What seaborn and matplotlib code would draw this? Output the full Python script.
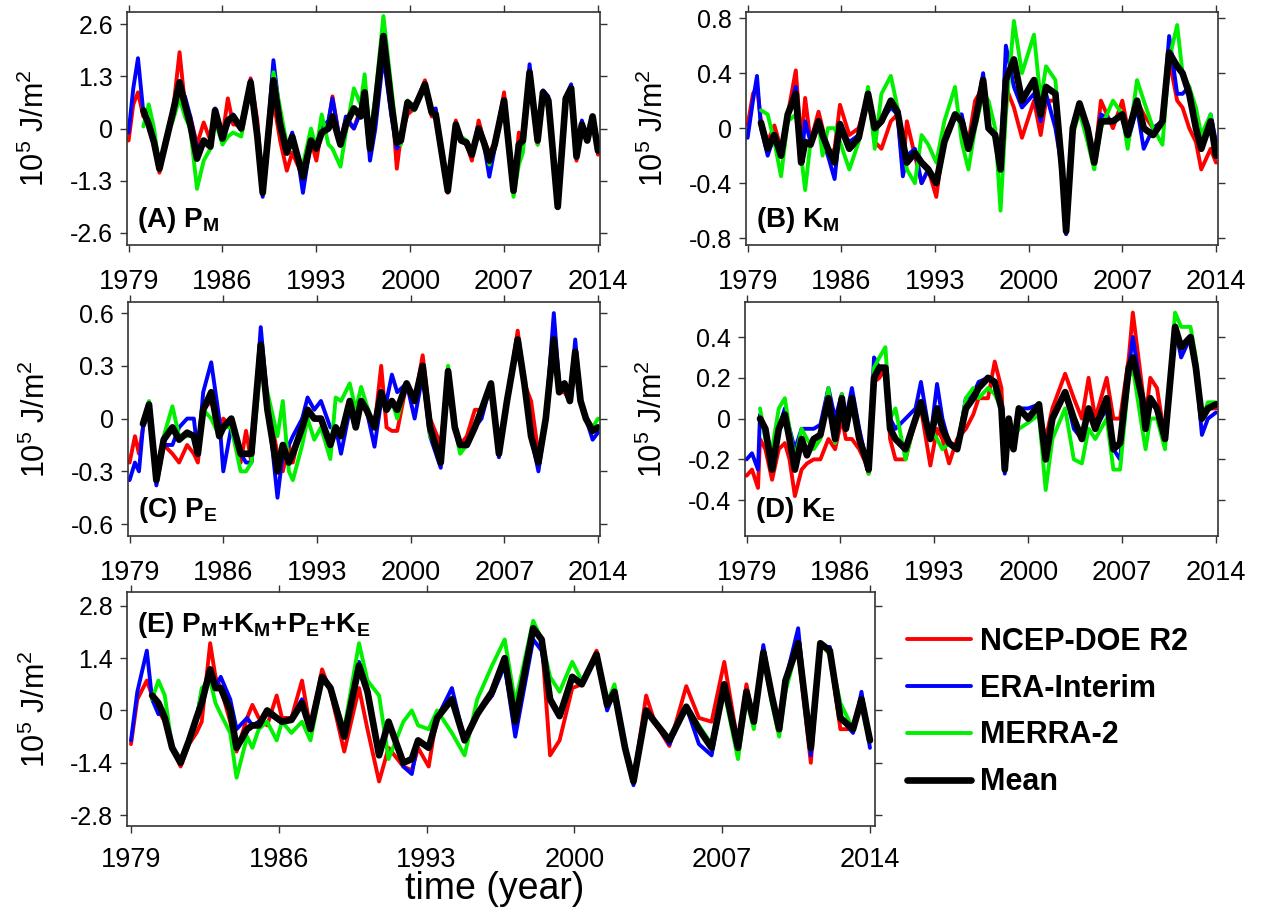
import numpy as np
import matplotlib
matplotlib.use('Agg')
import matplotlib.pyplot as plt
from matplotlib.lines import Line2D
import seaborn as sns

nan = np.nan

# x ticks shared by all panels
years = [1979, 1986, 1993, 2000, 2007, 2014]
series_names = ['NCEP-DOE R2', 'ERA-Interim', 'MERRA-2', 'Mean']
series_colors = ['#ff0000', '#0000ff', '#00f000', '#000000']

# (A) P_M
t_pm = [1979.0, 1979.35, 1979.7, 1980.1, 1980.5, 1980.9, 1981.3, 1981.8, 1982.3, 1982.8,
        1983.2, 1983.6, 1984.1, 1984.6, 1985.1, 1985.45, 1986.0, 1986.4, 1986.8, 1987.4,
        1988.1, 1988.6, 1989.0, 1989.8, 1990.3, 1990.8, 1991.2, 1991.6, 1992.0, 1992.6,
        1993.0, 1993.4, 1993.9, 1994.2, 1994.8, 1995.2, 1995.8, 1996.3, 1996.6, 1997.0,
        1997.4, 1998.0, 1998.6, 1999.0, 1999.3, 1999.8, 2000.3, 2001.1, 2001.6, 2001.9,
        2002.8, 2003.4, 2003.8, 2004.2, 2004.6, 2005.1, 2005.5, 2005.9, 2006.3, 2007.0,
        2007.7, 2008.1, 2008.4, 2008.9, 2009.5, 2009.9, 2010.3, 2011.0, 2011.6, 2012.0,
        2012.4, 2012.8, 2013.2, 2013.6, 2014.0]
pm_ncep = [-0.3, 0.6, 0.9, 0.3, 0.2, -0.3, -1.1, -0.3, 0.4, 1.9,
           0.6, 0.3, -0.4, 0.15, -0.3, 0.4, -0.2, 0.75, 0.1, 0.1,
           1.25, 0.2, -1.5, 0.7, -0.3, -1.05, -0.6, -0.9, -1.2, -0.3,
           -0.8, 0.0, 0.1, 0.8, -0.4, 0.2, 0.0, 0.5, 0.8, -0.5,
           0.3, 2.3, 0.8, -1.0, -0.2, 0.35, 0.5, 1.2, 0.3, 0.3,
           -1.6, 0.2, -0.3, -0.4, -0.8, 0.2, -0.3, -0.6, -0.4, 0.9,
           -1.5, -0.1, -0.3, 1.3, -0.4, 0.85, 0.5, -1.9, 0.8, 1.0,
           -0.8, 0.1, -0.3, 0.3, -0.65]
pm_era = [-0.1, 1.0, 1.75, 0.4, 0.2, -0.3, -0.9, -0.3, 0.5, 1.0,
          0.8, 0.3, -0.5, -0.3, -0.4, 0.5, -0.2, 0.1, 0.35, 0.0,
          1.2, 0.0, -1.7, 1.7, 0.3, -0.6, -0.1, -0.7, -1.6, -0.3,
          -0.5, 0.0, 0.2, 0.75, -0.4, 0.3, 0.0, 0.4, 0.8, -0.8,
          0.0, 1.8, 0.3, -0.5, -0.3, 0.65, 0.5, 1.1, 0.4, 0.5,
          -1.5, 0.1, -0.3, -0.4, -0.6, 0.0, -0.4, -1.2, -0.5, 0.7,
          -1.6, -0.4, -0.4, 1.6, -0.3, 0.95, 0.8, -1.8, 0.8, 1.1,
          -0.6, 0.2, -0.3, 0.3, -0.5]
pm_merra = [nan, nan, nan, 0.05, 0.6, 0.0, -1.0, -0.2, 0.2, 0.75,
            0.3, 0.0, -1.5, -0.8, -0.5, 0.2, -0.4, -0.2, -0.1, -0.2,
            1.1, -0.3, -1.5, 1.4, 0.5, -0.4, -0.3, -0.8, -0.9, 0.0,
            -0.5, 0.35, -0.4, -0.5, -0.95, -0.1, 1.0, 0.6, 1.35, -0.2,
            0.8, 2.8, 1.0, -0.2, -0.4, 0.7, 0.45, 1.1, 0.4, 0.3,
            -1.5, 0.0, -0.2, -0.3, -0.6, 0.0, -0.3, -0.9, -0.4, 0.7,
            -1.7, -0.9, -0.6, 1.2, -0.4, 0.75, 0.6, -1.9, 0.7, 0.9,
            -0.6, 0.0, -0.3, 0.25, -0.5]
pm_mean = [nan, nan, nan, 0.45, 0.1, -0.35, -1.0, -0.3, 0.4, 1.15,
           0.6, 0.1, -0.75, -0.3, -0.45, 0.45, -0.25, 0.2, 0.3, 0.0,
           1.15, -0.2, -1.6, 1.2, 0.1, -0.6, -0.2, -0.7, -1.2, -0.3,
           -0.5, -0.1, 0.0, 0.3, -0.4, 0.1, 0.5, 0.3, 0.9, -0.5,
           0.5, 2.3, 0.6, -0.35, -0.3, 0.65, 0.5, 1.1, 0.4, 0.35,
           -1.55, 0.1, -0.3, -0.35, -0.65, 0.0, -0.35, -0.8, -0.4, 0.7,
           -1.55, -0.4, -0.3, 1.4, -0.3, 0.9, 0.7, -1.95, 0.75, 1.0,
           -0.7, 0.1, -0.3, 0.3, -0.55]

# (B) K_M
t_km = [1979.0, 1979.4, 1979.7, 1980.0, 1980.5, 1981.0, 1981.5, 1982.0, 1982.6, 1983.0,
        1983.3, 1983.7, 1984.3, 1984.6, 1985.0, 1985.5, 1985.9, 1986.6, 1987.3, 1988.0,
        1988.5, 1989.0, 1989.7, 1990.2, 1990.6, 1990.9, 1991.5, 1992.0, 1992.5, 1993.1,
        1993.7, 1994.5, 1995.0, 1995.5, 1996.0, 1996.6, 1997.0, 1997.5, 1997.9, 1998.3,
        1998.9, 1999.5, 2000.4, 2000.9, 2001.3, 2002.0, 2002.5, 2002.8, 2003.3, 2003.8,
        2004.4, 2004.9, 2005.4, 2006.3, 2007.0, 2007.4, 2008.1, 2008.6, 2009.3, 2010.0,
        2010.5, 2011.1, 2011.5, 2012.0, 2012.5, 2012.9, 2013.6, 2014.0]
km_ncep = [0.02, 0.25, 0.3, 0.05, -0.1, 0.02, -0.15, 0.1, 0.42, -0.1,
           0.22, -0.1, 0.12, 0.0, -0.2, -0.15, 0.17, -0.05, 0.0, 0.25,
           -0.1, -0.15, 0.05, 0.1, -0.3, 0.05, -0.2, -0.4, -0.3, -0.5,
           -0.05, 0.1, 0.05, -0.1, 0.2, 0.3, 0.0, -0.05, -0.25, 0.3,
           0.15, -0.07, 0.2, -0.05, 0.2, 0.2, -0.3, -0.77, 0.0, 0.15,
           0.0, -0.25, 0.2, 0.0, 0.2, 0.0, 0.2, 0.1, 0.0, 0.05,
           0.5, 0.2, 0.15, 0.0, -0.1, -0.3, -0.15, -0.25]
km_era = [-0.07, 0.2, 0.38, 0.0, -0.2, -0.05, -0.15, 0.1, 0.3, -0.25,
          0.05, -0.1, 0.05, -0.05, -0.2, -0.37, 0.0, -0.1, -0.05, 0.25,
          0.0, 0.05, 0.15, 0.1, -0.35, -0.2, -0.15, -0.4, -0.3, -0.4,
          -0.1, 0.1, 0.1, -0.15, 0.05, 0.4, 0.0, -0.05, -0.25, 0.6,
          0.3, 0.15, 0.25, 0.05, 0.25, 0.0, -0.3, -0.77, 0.0, 0.18,
          0.0, -0.25, 0.1, 0.05, 0.1, -0.1, 0.15, -0.15, 0.0, 0.05,
          0.67, 0.25, 0.25, 0.3, 0.0, -0.15, 0.1, -0.1]
km_merra = [nan, nan, nan, 0.13, 0.1, -0.1, -0.35, 0.05, 0.1, -0.2,
            -0.45, -0.1, 0.05, -0.2, 0.0, 0.0, -0.1, -0.3, -0.1, 0.3,
            -0.15, 0.25, 0.38, 0.15, -0.1, -0.3, -0.4, -0.05, -0.12, -0.25,
            0.05, 0.3, -0.1, -0.3, 0.0, 0.25, 0.2, 0.0, -0.6, 0.1,
            0.78, 0.4, 0.68, 0.2, 0.45, 0.35, -0.3, -0.75, -0.05, 0.12,
            -0.1, -0.3, 0.0, 0.2, 0.1, -0.15, 0.35, 0.2, 0.0, -0.12,
            0.5, 0.75, 0.4, 0.3, 0.15, -0.05, 0.1, -0.2]
km_mean = [nan, nan, nan, 0.04, -0.15, -0.05, -0.2, 0.1, 0.25, -0.25,
           -0.1, -0.12, 0.05, -0.05, -0.15, -0.25, 0.03, -0.15, -0.07, 0.25,
           0.0, 0.05, 0.2, 0.12, -0.1, -0.25, -0.18, -0.25, -0.3, -0.4,
           -0.1, 0.1, 0.05, -0.15, 0.05, 0.35, 0.0, -0.05, -0.3, 0.35,
           0.5, 0.2, 0.35, 0.1, 0.3, 0.25, -0.3, -0.75, 0.0, 0.18,
           0.0, -0.25, 0.05, 0.05, 0.1, -0.05, 0.2, 0.0, -0.05, 0.05,
           0.55, 0.45, 0.4, 0.25, 0.0, -0.15, 0.05, -0.2]

# (C) P_E
t_pe = [1979.0, 1979.4, 1979.7, 1980.0, 1980.45, 1981.0, 1981.55, 1982.2, 1982.7, 1983.3,
        1983.8, 1984.1, 1984.5, 1985.1, 1985.7, 1986.0, 1986.6, 1987.3, 1987.7, 1988.1,
        1988.8, 1989.3, 1990.05, 1990.45, 1990.9, 1991.2, 1991.9, 1992.3, 1992.8, 1993.3,
        1994.0, 1994.4, 1994.8, 1995.45, 1995.9, 1996.3, 1996.7, 1997.3, 1997.8, 1998.2,
        1998.6, 1999.0, 1999.7, 2000.3, 2000.9, 2001.45, 2002.25, 2002.8, 2003.3, 2003.7,
        2004.2, 2004.8, 2005.3, 2006.0, 2006.6, 2007.2, 2008.0, 2008.5, 2009.0, 2009.55,
        2010.1, 2010.7, 2011.1, 2011.5, 2011.9, 2012.3, 2012.7, 2013.1, 2013.6, 2014.0]
pe_ncep = [-0.25, -0.1, -0.2, -0.05, 0.05, -0.3, -0.15, -0.2, -0.25, -0.15,
           -0.2, -0.25, 0.05, 0.1, -0.05, 0.0, -0.05, -0.25, -0.07, -0.25,
           0.35, 0.1, -0.2, -0.3, -0.15, -0.25, 0.0, 0.05, 0.0, 0.0,
           -0.15, -0.05, -0.1, 0.05, -0.05, 0.1, 0.05, -0.05, 0.3, -0.05,
           -0.07, -0.07, 0.2, 0.1, 0.36, 0.0, -0.15, 0.25, -0.05, -0.15,
           -0.1, 0.05, 0.05, 0.2, -0.15, 0.1, 0.5, 0.2, 0.1, -0.2,
           0.0, 0.4, 0.15, 0.15, 0.1, 0.38, 0.1, 0.0, -0.05, -0.05]
pe_era = [-0.35, -0.25, -0.3, -0.05, 0.05, -0.38, -0.15, -0.15, -0.05, 0.0,
          0.0, -0.2, 0.15, 0.32, 0.0, -0.3, -0.05, -0.2, -0.25, -0.25,
          0.52, 0.1, -0.45, -0.2, -0.15, -0.1, 0.0, 0.12, 0.05, 0.1,
          -0.05, -0.05, -0.2, 0.05, 0.0, 0.1, 0.05, -0.16, 0.1, 0.1,
          0.25, 0.15, 0.2, 0.0, 0.25, -0.1, -0.28, 0.25, -0.05, -0.15,
          -0.15, -0.05, 0.0, 0.2, -0.22, 0.1, 0.45, 0.2, -0.1, -0.3,
          0.0, 0.6, 0.2, 0.2, 0.1, 0.45, 0.1, 0.0, -0.12, -0.08]
pe_merra = [nan, nan, nan, -0.03, 0.1, -0.3, -0.1, 0.07, -0.1, -0.1,
            -0.1, -0.2, 0.05, 0.0, -0.1, -0.05, -0.05, -0.3, -0.3, -0.25,
            0.3, 0.15, -0.1, 0.1, -0.3, -0.35, -0.15, 0.0, -0.12, -0.05,
            -0.23, 0.12, 0.1, 0.2, 0.05, 0.18, 0.08, -0.05, 0.15, 0.05,
            0.1, 0.0, 0.2, 0.1, 0.3, -0.1, -0.2, 0.3, -0.05, -0.2,
            -0.15, -0.05, 0.05, 0.2, -0.2, 0.1, 0.42, 0.2, -0.1, -0.22,
            0.0, 0.4, 0.15, 0.2, 0.1, 0.38, 0.1, 0.0, -0.05, 0.0]
pe_mean = [nan, nan, nan, -0.03, 0.08, -0.35, -0.12, -0.05, -0.12, -0.08,
           -0.1, -0.2, 0.05, 0.15, -0.1, -0.05, 0.0, -0.2, -0.2, -0.2,
           0.42, 0.05, -0.3, -0.15, -0.25, -0.2, -0.05, 0.05, 0.0, 0.0,
           -0.15, -0.05, -0.1, 0.1, -0.05, 0.1, 0.05, -0.05, 0.15, 0.05,
           0.1, 0.05, 0.2, 0.1, 0.3, -0.05, -0.25, 0.27, -0.05, -0.15,
           -0.15, -0.05, 0.05, 0.2, -0.2, 0.1, 0.45, 0.2, -0.1, -0.25,
           0.0, 0.45, 0.15, 0.2, 0.1, 0.38, 0.1, 0.0, -0.07, -0.05]

# (D) K_E
t_ke = [1979.0, 1979.4, 1979.85, 1980.0, 1980.4, 1980.9, 1981.4, 1981.85, 1982.2, 1982.6,
        1983.1, 1983.5, 1984.0, 1984.5, 1985.1, 1985.6, 1986.1, 1986.4, 1986.85, 1987.4,
        1987.9, 1988.1, 1988.5, 1988.9, 1989.35, 1989.7, 1990.1, 1990.85, 1991.6, 1992.0,
        1992.7, 1993.2, 1993.6, 1994.1, 1994.7, 1995.35, 1995.9, 1996.3, 1997.0, 1997.5,
        1998.0, 1998.25, 1998.55, 1998.9, 1999.3, 2000.0, 2000.8, 2001.3, 2001.8, 2002.75,
        2003.4, 2004.0, 2004.5, 2005.0, 2005.85, 2006.35, 2006.85, 2007.5, 2007.8, 2008.5,
        2008.75, 2009.1, 2009.6, 2010.2, 2010.95, 2011.4, 2012.1, 2012.5, 2012.95, 2013.4,
        2014.0]
ke_ncep = [-0.28, -0.25, -0.34, -0.1, -0.15, -0.3, -0.15, -0.12, -0.2, -0.38,
           -0.25, -0.22, -0.2, -0.2, -0.1, -0.15, 0.0, -0.1, -0.1, -0.15,
           -0.22, -0.27, 0.18, 0.2, 0.25, -0.1, -0.2, -0.2, 0.0, 0.05,
           -0.23, -0.05, -0.1, -0.22, -0.1, -0.05, 0.02, 0.1, 0.1, 0.28,
           0.15, -0.2, 0.0, -0.1, 0.05, 0.0, 0.05, -0.1, 0.05, 0.22,
           0.1, 0.0, 0.2, 0.0, 0.2, 0.0, 0.0, 0.3, 0.52, 0.15,
           0.0, 0.2, 0.15, -0.1, 0.4, 0.35, 0.4, 0.25, 0.0, 0.05,
           0.05]
ke_era = [-0.2, -0.17, -0.25, 0.02, -0.05, -0.2, -0.05, 0.05, -0.05, -0.15,
          -0.05, -0.05, -0.05, -0.03, 0.15, 0.0, 0.12, 0.0, 0.15, -0.05,
          -0.2, -0.25, 0.3, 0.25, 0.25, 0.0, -0.05, 0.0, 0.05, 0.18,
          -0.1, 0.17, 0.0, -0.12, -0.15, 0.1, 0.12, 0.18, 0.2, 0.18,
          0.05, -0.27, 0.0, -0.15, 0.05, 0.05, 0.07, -0.2, 0.0, 0.13,
          -0.05, -0.1, 0.05, -0.05, 0.05, -0.15, -0.2, 0.25, 0.4, 0.1,
          -0.05, 0.1, 0.05, -0.1, 0.45, 0.3, 0.4, 0.25, -0.08, 0.0,
          0.03]
ke_merra = [nan, nan, nan, 0.05, -0.1, -0.15, 0.05, 0.1, -0.05, -0.2,
            -0.05, -0.1, -0.15, -0.1, 0.15, -0.12, 0.12, 0.0, 0.1, -0.1,
            -0.2, -0.27, 0.25, 0.3, 0.35, 0.0, 0.05, -0.2, 0.0, 0.05,
            -0.05, -0.1, -0.15, -0.12, -0.15, 0.1, 0.15, 0.1, 0.15, 0.12,
            0.05, -0.2, 0.0, -0.1, -0.05, -0.02, 0.02, -0.35, -0.1, 0.05,
            -0.2, -0.22, -0.05, -0.1, 0.0, -0.25, -0.25, 0.2, 0.25, -0.05,
            -0.15, 0.0, 0.0, -0.15, 0.52, 0.45, 0.45, 0.3, 0.0, 0.08,
            0.08]
ke_mean = [nan, nan, nan, 0.0, -0.05, -0.25, -0.05, 0.02, -0.1, -0.25,
           -0.1, -0.18, -0.1, -0.08, 0.1, -0.1, 0.1, -0.05, 0.1, -0.1,
           -0.2, -0.25, 0.2, 0.25, 0.25, -0.05, -0.1, -0.15, 0.0, 0.08,
           -0.1, 0.05, -0.05, -0.12, -0.15, 0.05, 0.1, 0.15, 0.2, 0.18,
           0.05, -0.25, 0.0, -0.15, 0.05, 0.0, 0.07, -0.2, 0.0, 0.13,
           0.0, -0.1, 0.05, -0.05, 0.1, -0.15, -0.12, 0.25, 0.3, 0.1,
           -0.05, 0.1, 0.05, -0.1, 0.45, 0.35, 0.4, 0.25, 0.0, 0.05,
           0.07]

# (E) P_M+K_M+P_E+K_E
t_tot = [1979.0, 1979.3, 1979.75, 1980.0, 1980.3, 1980.6, 1980.95, 1981.35, 1981.75, 1982.1,
         1982.35, 1982.75, 1983.0, 1983.25, 1983.7, 1984.0, 1984.5, 1984.75, 1985.05, 1985.45,
         1985.9, 1986.15, 1986.6, 1987.1, 1987.5, 1988.05, 1988.45, 1989.1, 1989.8, 1990.2,
         1990.75, 1991.2, 1991.9, 1992.3, 1992.6, 1993.1, 1993.5, 1994.2, 1994.8, 1995.4,
         1996.1, 1996.7, 1997.2, 1998.05, 1998.45, 1998.85, 1999.3, 1999.9, 2000.35, 2001.05,
         2001.55, 2001.9, 2002.4, 2002.8, 2003.4, 2003.8, 2004.5, 2005.3, 2005.9, 2006.5,
         2007.1, 2007.75, 2008.15, 2008.5, 2008.95, 2009.35, 2009.7, 2010.0, 2010.6, 2011.2,
         2011.65, 2012.1, 2012.6, 2013.2, 2013.6, 2014.0]
tot_ncep = [-0.9, 0.3, 0.8, 0.4, 0.0, -0.3, -1.0, -1.5, -0.9, -0.6,
            -0.3, 1.8, 0.9, 0.6, -0.3, -1.1, -0.2, 0.15, -0.2, -0.4,
            0.4, -0.2, -0.2, 0.8, -0.5, 1.1, 0.5, -1.1, 0.6, -0.5,
            -1.9, -1.0, -1.5, -1.6, -1.0, -1.5, -0.1, 0.3, -0.8, -0.1,
            0.4, 1.4, -0.4, 2.3, 1.9, -1.2, -0.8, 0.6, 0.7, 1.6,
            0.15, 0.5, -1.0, -1.9, 0.4, -0.3, -0.95, 0.65, -0.2, -0.3,
            1.3, -0.9, 0.7, -0.3, 1.5, 0.4, -0.5, 0.8, 1.6, -1.4,
            1.8, 1.5, -0.5, -0.5, 0.3, -0.8]
tot_era = [-0.8, 0.5, 1.6, 0.3, -0.1, 0.0, -1.0, -1.4, -0.8, -0.2,
           0.5, 1.0, 0.6, 0.9, 0.3, -0.5, -0.2, -0.4, -0.3, -0.1,
           -0.2, -0.3, -0.2, 0.3, -0.5, 0.9, 0.6, -0.7, 1.3, 0.5,
           -1.2, -0.3, -1.5, -1.7, -0.8, -1.0, -0.2, 0.6, -0.8, -0.1,
           0.4, 1.2, -0.7, 1.9, 1.6, 0.3, -0.15, 0.9, 0.7, 1.5,
           0.0, 0.5, -1.0, -2.0, 0.0, -0.3, -0.9, 0.1, -0.9, -1.2,
           0.7, -1.1, 0.5, -0.3, 1.75, 0.4, -0.5, 0.8, 2.2, -1.2,
           1.7, 1.7, -0.2, -0.6, 0.5, -1.0]
tot_merra = [nan, nan, nan, 0.3, 0.8, 0.4, -1.0, -1.3, -0.9, -0.3,
             0.6, 0.8, 0.2, -0.1, -0.6, -1.8, -0.7, -1.0, -0.5, -0.3,
             -0.8, -0.3, -0.6, -0.3, -0.8, 0.8, 0.6, -0.5, 1.8, 0.8,
             0.4, -1.3, -0.3, 0.0, -0.4, -0.5, 0.0, -0.6, -1.2, 0.3,
             1.2, 1.9, 0.2, 2.4, 1.9, 0.9, 0.5, 1.3, 0.8, 1.5,
             0.2, 0.7, -1.0, -1.9, 0.0, -0.3, -0.8, 0.1, -0.4, -0.9,
             0.5, -1.3, 0.3, -0.5, 1.5, 0.2, -0.7, 0.5, 1.8, -1.0,
             1.8, 1.5, 0.2, -0.5, 0.3, -0.7]
tot_mean = [nan, nan, nan, 0.4, 0.2, -0.2, -1.0, -1.4, -0.8, -0.2,
            0.2, 1.1, 0.6, 0.6, 0.0, -1.0, -0.5, -0.4, -0.4, 0.0,
            -0.2, -0.3, -0.25, 0.2, -0.5, 0.9, 0.6, -0.7, 1.2, 0.5,
            -1.2, -0.3, -1.4, -1.3, -0.8, -1.0, -0.2, 0.3, -0.8, -0.1,
            0.5, 1.4, -0.3, 2.2, 1.9, 0.3, -0.15, 0.9, 0.7, 1.5,
            0.15, 0.5, -1.0, -1.9, 0.0, -0.3, -0.8, 0.1, -0.5, -1.0,
            0.7, -1.0, 0.5, -0.3, 1.55, 0.4, -0.5, 0.8, 1.8, -1.0,
            1.8, 1.6, -0.2, -0.5, 0.3, -0.8]

# y ticks of each panel
pm_ticks = [-2.6, -1.3, 0, 1.3, 2.6]
pm_ticklabels = ['-2.6', '-1.3', '0', '1.3', '2.6']
km_ticks = [-0.8, -0.4, 0, 0.4, 0.8]
km_ticklabels = ['-0.8', '-0.4', '0', '0.4', '0.8']
pe_ticks = [-0.6, -0.3, 0, 0.3, 0.6]
pe_ticklabels = ['-0.6', '-0.3', '0', '0.3', '0.6']
ke_ticks = [-0.4, -0.2, 0, 0.2, 0.4]
ke_ticklabels = ['-0.4', '-0.2', '0', '0.2', '0.4']
tot_ticks = [-2.8, -1.4, 0, 1.4, 2.8]
tot_ticklabels = ['-2.8', '-1.4', '0', '1.4', '2.8']

sns.set_theme(style='ticks')
plt.rcParams['font.family'] = ['Liberation Sans', 'DejaVu Sans']
plt.rcParams['mathtext.fontset'] = 'custom'
plt.rcParams['mathtext.rm'] = 'Liberation Sans'
plt.rcParams['mathtext.it'] = 'Liberation Sans:italic'
plt.rcParams['mathtext.bf'] = 'Liberation Sans:bold'
plt.rcParams['axes.unicode_minus'] = False
for key in ['text.color', 'axes.labelcolor', 'xtick.color', 'ytick.color']:
    plt.rcParams[key] = 'black'

fig = plt.figure(figsize=(12.61, 9.16), dpi=100)
line_widths = [2.8, 2.8, 2.8, 4.8]


def draw_panel(rect, t, ncep, era, merra, mean, yticks, yticklabels, ylim, xlim,
               label, label_xy, ylabel_x, xpad):
    ax = fig.add_axes(rect)
    for vals, color, lw in zip([ncep, era, merra, mean], series_colors, line_widths):
        t_arr = np.array(t)
        v_arr = np.array(vals, dtype=float)
        ok = ~np.isnan(v_arr)
        sns.lineplot(x=t_arr[ok], y=v_arr[ok], color=color, linewidth=lw, ax=ax,
                     estimator=None, sort=False, legend=False,
                     solid_joinstyle='round', solid_capstyle='round')
    ax.set_xlim(*xlim)
    ax.set_ylim(*ylim)
    ax.set_xticks(years)
    ax.set_xticklabels([str(y) for y in years])
    ax.set_yticks(yticks)
    ax.set_yticklabels(yticklabels)
    ax.tick_params(direction='out', length=5, width=1, top=True, right=True, color='#333333')
    ax.tick_params(axis='x', labelsize=19.5, pad=xpad)
    ax.tick_params(axis='y', labelsize=18, pad=5)
    for sp in ax.spines.values():
        sp.set_visible(True)
        sp.set_color('#333333')
        sp.set_linewidth(1.2)
    ax.set_ylabel(r'10$^5$ J/m$^2$', fontsize=22)
    ax.yaxis.set_label_coords(ylabel_x, 0.5)
    ax.text(label_xy[0], label_xy[1], label, transform=ax.transAxes, fontsize=20,
            fontweight='bold', va='baseline', ha='left')
    return ax


top_xlim = (1978.88, 2014.15)
draw_panel([0.1007, 0.7325, 0.3751, 0.2544], t_pm, pm_ncep, pm_era, pm_merra, pm_mean,
           pm_ticks, pm_ticklabels, (-2.9, 2.9), top_xlim,
           r'(A) $\mathbf{P_M}$', (0.021, 0.077), -0.16, 12)
draw_panel([0.5916, 0.7325, 0.3743, 0.2544], t_km, km_ncep, km_era, km_merra, km_mean,
           km_ticks, km_ticklabels, (-0.85, 0.845), top_xlim,
           r'(B) $\mathbf{K_M}$', (0.021, 0.077), -0.16, 12)
draw_panel([0.1015, 0.4148, 0.3743, 0.2555], t_pe, pe_ncep, pe_era, pe_merra, pe_mean,
           pe_ticks, pe_ticklabels, (-0.668, 0.663), top_xlim,
           r'(C) $\mathbf{P_E}$', (0.021, 0.081), -0.16, 12)
draw_panel([0.5908, 0.4148, 0.3751, 0.2555], t_ke, ke_ncep, ke_era, ke_merra, ke_mean,
           ke_ticks, ke_ticklabels, (-0.576, 0.572), top_xlim,
           r'(D) $\mathbf{K_E}$', (0.021, 0.081), -0.16, 12)
draw_panel([0.1007, 0.0983, 0.5932, 0.2554], t_tot, tot_ncep, tot_era, tot_merra, tot_mean,
           tot_ticks, tot_ticklabels, (-3.09, 3.17), (1978.81, 2014.24),
           r'(E) $\mathbf{P_M}$+$\mathbf{K_M}$+$\mathbf{P_E}$+$\mathbf{K_E}$',
           (0.013, 0.83), -0.10, 10)

fig.text(495 / 1261, 1 - 889 / 916, 'time (year)', fontsize=27, ha='center', va='center')

handles = [Line2D([0], [0], color=c, lw=lw) for c, lw in zip(series_colors, line_widths)]
fig.legend(handles, series_names, loc='center left', bbox_to_anchor=(907 / 1261, 1 - 712 / 916),
           frameon=False, borderpad=0, borderaxespad=0, handlelength=2.1, handletextpad=0.3,
           labelspacing=0.55, prop={'size': 22, 'weight': 'bold'})

fig.savefig('out.png', dpi=100)
